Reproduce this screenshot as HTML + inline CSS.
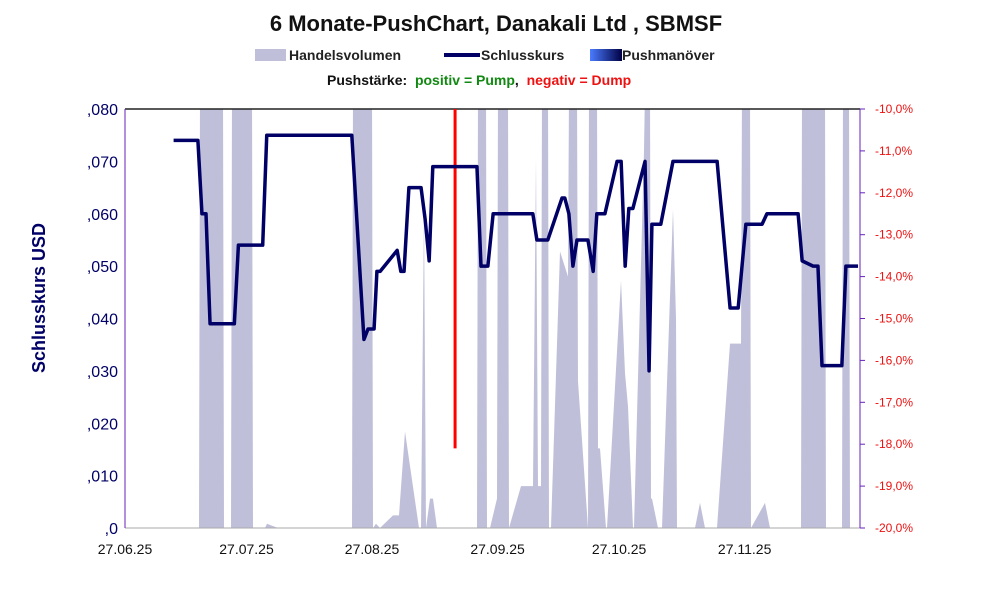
<!DOCTYPE html>
<html><head><meta charset="utf-8"><style>
body{margin:0;background:#fff;font-family:"Liberation Sans",sans-serif;}
svg text{font-family:"Liberation Sans",sans-serif;}
</style></head><body>
<svg id="c" width="991" height="593">
<text x="496" y="31" text-anchor="middle" font-size="22" font-weight="bold" fill="#111">6 Monate-PushChart, Danakali Ltd , SBMSF</text>
<g>
<rect x="255" y="49" width="31" height="12" fill="#bfbfd9"/>
<text x="289" y="60" font-size="14" font-weight="bold" fill="#222">Handelsvolumen</text>
<line x1="444" y1="55" x2="480" y2="55" stroke="#000066" stroke-width="4"/>
<text x="481" y="60" font-size="14" font-weight="bold" fill="#222">Schlusskurs</text>
<defs><linearGradient id="pg" x1="0" x2="1"><stop offset="0" stop-color="#4a7cff"/><stop offset="1" stop-color="#000044"/></linearGradient></defs>
<rect x="590" y="49" width="32" height="12" fill="url(#pg)"/>
<text x="622" y="60" font-size="14" font-weight="bold" fill="#222">Pushmanöver</text>
<text x="327" y="85" font-size="14" font-weight="bold" fill="#111" xml:space="preserve">Pushstärke:  <tspan fill="#118811">positiv = Pump</tspan>,  <tspan fill="#ee1111">negativ = Dump</tspan></text>
</g>
<g id="plot"></g>
<text transform="translate(45,298) rotate(-90)" text-anchor="middle" font-size="18" font-weight="bold" fill="#000066">Schlusskurs USD</text>
</svg>
<script>
const priceDays=[12,18,19,20,21,27,27.4,28,34,35,56,59,60,61.5,62.2,63,67.2,68.1,68.9,70.1,73.1,74.1,75.1,76,86.9,87.9,89.6,90.9,100.7,101.7,104.4,107.9,108.6,109.6,110.6,111.6,114.3,115.6,116.5,118.5,121.5,122.5,123.5,124.4,125.4,128.4,129.4,130.1,132.3,135.3,146.2,149.4,151.4,153.3,157.3,158.5,166.2,167.2,169.9,171.1,172.1,177,178,181];
const priceVals=[.074,.074,.060,.060,.039,.039,.045,.054,.054,.075,.075,.036,.038,.038,.049,.049,.053,.049,.049,.065,.065,.059,.051,.069,.069,.050,.050,.060,.060,.055,.055,.063,.063,.060,.050,.055,.055,.049,.060,.060,.070,.070,.050,.061,.061,.070,.030,.058,.058,.070,.070,.042,.042,.058,.058,.060,.060,.051,.050,.050,.031,.031,.050,.050];
const volX=[125,199,200,208,209,223,224,231,232,252,253,265,267,278,352,353,372,373,376,380,393,399,405,419,421,424,426,430,433,437,477,478,486,487,490,497,498,508,509,521,533,536,538,541,542,548,549,551,560,568,569,577,578,588,589,597,598,600,606,607,621,625,628,633,634,644,645,650,651,652,658,662,673,676,677,695,700,705,717,730,741,742,750,751,765,770,801,802,817,818,825,826,842,843,849,850,860];
const volVals=[0,0,2,2,2,2,0,0,2,2,0,0,0.01,0,0,2,2,0,0.01,0,0.03,0.03,0.23,0,0,0.75,0,0.07,0.07,0,0,2,2,0,0,0.07,2,2,0,0.1,0.1,0.88,0.1,0.1,2,2,0,0,0.66,0.6,2,2,0.35,0,2,2,0.19,0.19,0,0,0.59,0.37,0.29,0,0,0.9,2,2,0.07,0.07,0,0,0.76,0.5,0,0,0.06,0,0,0.44,0.44,2,2,0,0.06,0,0,2,2,2,2,0,0,2,2,0,0];
const pushDays=[81.5];
const pushVals=[-18.1];
const yTicks=[",0",",010",",020",",030",",040",",050",",060",",070",",080"];
const rTicks=["-20,0%","-19,0%","-18,0%","-17,0%","-16,0%","-15,0%","-14,0%","-13,0%","-12,0%","-11,0%","-10,0%"];
const xTicks=["27.06.25","27.07.25","27.08.25","27.09.25","27.10.25","27.11.25"];
const xTickDays=[0,30,61,92,122,153];
const L=125,R=860,T=109,B=528,PPD=4.05;
const xs=d=>L+d*PPD;
const ys=v=>B-v/0.08*(B-T);
const yr=p=>B-(p+20)/10*(B-T);
const yv=f=>B-Math.min(f,1.05)*(B-T);
const NS="http://www.w3.org/2000/svg";
const g=document.getElementById('plot');
function mk(t,a){const e=document.createElementNS(NS,t);for(const k in a)e.setAttribute(k,a[k]);g.appendChild(e);return e;}
const cp=document.createElementNS(NS,'clipPath');cp.setAttribute('id','cl');const cr=document.createElementNS(NS,'rect');cr.setAttribute('x',L);cr.setAttribute('y',T);cr.setAttribute('width',R-L);cr.setAttribute('height',B-T);cp.appendChild(cr);g.appendChild(cp);
let pts=volX.map((x,i)=>x+','+yv(volVals[i])).join(' ');
const va=mk('polygon',{points:L+','+B+' '+pts+' '+R+','+B,fill:'#bfbfd9','clip-path':'url(#cl)'});


const topBorder=mk('line',{x1:L,y1:T,x2:R,y2:T,stroke:'#222','stroke-width':1.5});


const bx=mk('line',{x1:L,y1:B,x2:R,y2:B,stroke:'#aaa','stroke-width':1});


const la=mk('line',{x1:L,y1:T,x2:L,y2:B,stroke:'#6622bb','stroke-width':1});


const ra=mk('line',{x1:R,y1:T,x2:R,y2:B,stroke:'#6622bb','stroke-width':1});


pushDays.forEach((d,i)=>{const l=mk('line',{x1:xs(d),y1:T,x2:xs(d),y2:yr(pushVals[i]),stroke:'#ff0000','stroke-width':3});

});
const pl=mk('polyline',{points:priceDays.map((d,i)=>xs(d)+','+ys(priceVals[i])).join(' '),fill:'none',stroke:'#000066','stroke-width':3.5,'stroke-linejoin':'round'});


yTicks.forEach((t,i)=>{const e=mk('text',{x:L-7,y:ys(i*0.01)+6,'text-anchor':'end','font-size':16,fill:'#000066'});e.textContent=t;

});
rTicks.forEach((t,i)=>{const e=mk('text',{x:R+15,y:yr(-20+i)+4,'font-size':12,fill:'#ee1111'});e.textContent=t;


const tk=mk('line',{x1:R,y1:yr(-20+i),x2:R+5,y2:yr(-20+i),stroke:'#6622bb'});

});
xTicks.forEach((t,i)=>{const e=mk('text',{x:xs(xTickDays[i]),y:B+26,'text-anchor':'middle','font-size':14,fill:'#111'});e.textContent=t;

});
</script>
</body></html>
